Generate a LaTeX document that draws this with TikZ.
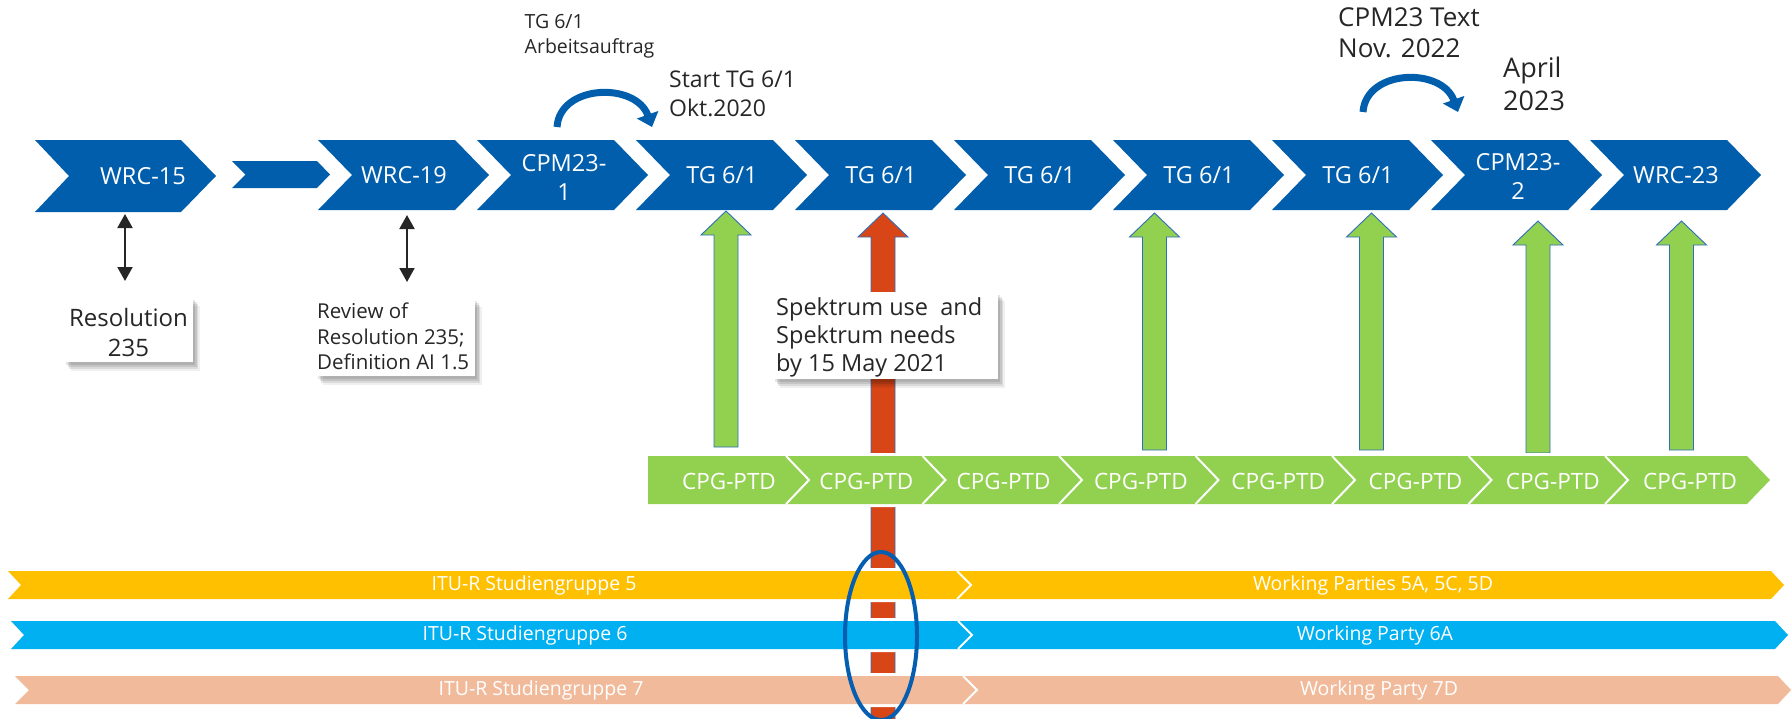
\documentclass[tikz,border=0pt]{standalone}
\usepackage{fontspec}
\setmainfont{Open Sans}
\usetikzlibrary{arrows.meta,shadows,shapes.geometric}
\definecolor{chevblue}{RGB}{0,94,172}
\definecolor{cgreen}{RGB}{146,208,80}
\definecolor{cred}{RGB}{216,70,24}
\definecolor{aline}{RGB}{46,110,186}
\definecolor{cyellow}{RGB}{255,192,0}
\definecolor{ccyan}{RGB}{0,176,240}
\definecolor{csalmon}{RGB}{241,187,155}
\definecolor{ellblue}{RGB}{5,94,176}
\definecolor{tgray}{RGB}{38,38,38}
\begin{document}
\begin{tikzpicture}[x=1pt,y=-1pt,
  chevtext/.style={text=white,font=\fontsize{23.5}{29}\selectfont,align=center,inner sep=0pt},
  lbl/.style={text=tgray,anchor=base west,inner sep=0pt},
  boxtext/.style={text=tgray,inner sep=0pt},
  whitebox/.style={fill=white,inner sep=0pt,
    drop shadow={shadow xshift=2pt,shadow yshift=-3pt,fill=black,opacity=0.10},
    drop shadow={shadow xshift=3.5pt,shadow yshift=-5pt,fill=black,opacity=0.10},
    drop shadow={shadow xshift=5pt,shadow yshift=-7pt,fill=black,opacity=0.09},
    drop shadow={shadow xshift=6.5pt,shadow yshift=-9pt,fill=black,opacity=0.06}},
  blockarrow/.style={draw=aline,line width=0.9pt},
  halo/.style={preaction={draw=white,line width=6pt}},
  cpgtext/.style={text=white,font=\fontsize{22.5}{27}\selectfont,inner sep=0pt},
  bandtext/.style={text=white,font=\fontsize{19.5}{24}\selectfont,inner sep=0pt},
  blackarrow/.style={draw=black!85,line width=2pt,{Triangle[length=14pt,width=15pt]}-{Triangle[length=14pt,width=15pt]}},
  curvearrow/.style={draw=chevblue,line width=7pt,-{Triangle[length=13pt,width=22pt]}}
]
\useasboundingbox (0,0) rectangle (1791,718);

% ---------- red block arrow (goes down through everything)
\filldraw[blockarrow,fill=cred] (871,724) -- (871,237) -- (858,237) -- (883,213) -- (908,237) -- (895,237) -- (895,724) -- cycle;

% ---------- green block arrows
\foreach \x/\t/\b in {726/211/447,1154.5/213/450,1371.5/213/450,1538/221/453,1681.5/221/450}{
  \filldraw[blockarrow,fill=cgreen] (\x-12,\b) -- (\x-12,\t+24) -- (\x-25,\t+24) -- (\x,\t) -- (\x+25,\t+24) -- (\x+12,\t+24) -- (\x+12,\b) -- cycle;
}

% ---------- blue chevrons
\fill[chevblue] (35,140) -- (181,140) -- (216,176) -- (181,212) -- (35,212) -- (69,176) -- cycle;
\fill[chevblue] (232,161) -- (317,161) -- (330,174.5) -- (317,188) -- (232,188) -- (245.5,174.5) -- cycle;
\foreach \x in {318,477,636,795,954,1113,1272,1431,1590}{
  \fill[chevblue] (\x,140) -- ++(137,0) -- ++(34,35) -- ++(-34,35) -- ++(-137,0) -- ++(34,-35) -- cycle;
}
\node[chevtext] (wrc15) at (143,176) {WRC-15};
\node[chevtext] (wrc19) at (404,175) {WRC-19};
\node[chevtext] (cpm1) at (564,177) {CPM23-\\1};
\node[chevtext] (tga) at (722,175) {TG 6/1};
\node[chevtext] (tgb) at (881,175) {TG 6/1};
\node[chevtext] (tgc) at (1040,175) {TG 6/1};
\node[chevtext] (tgd) at (1199,175) {TG 6/1};
\node[chevtext] (tge) at (1358,175) {TG 6/1};
\node[chevtext] (cpm2) at (1518,176) {CPM23-\\2};
\node[chevtext] (wrc23) at (1676,175) {WRC-23};

% ---------- top labels
\node[lbl,font=\fontsize{19.5}{24}\selectfont] (tgl1) at (524.5,28.3) {TG 6/1};
\node[lbl,font=\fontsize{19.5}{24}\selectfont] (tgl2) at (524.5,53.3) {Arbeitsauftrag};
\node[lbl,font=\fontsize{23}{28}\selectfont] (stl1) at (669,87.3) {Start TG 6/1};
\node[lbl,font=\fontsize{23}{28}\selectfont] (stl2) at (669,116) {Okt.2020};
\node[lbl,font=\fontsize{26}{31}\selectfont] (cpl1) at (1338,26) {CPM23 Text};
\node[lbl,font=\fontsize{26}{31}\selectfont] (cpl2) at (1338,57.3) {Nov. 2022};
\node[lbl,font=\fontsize{27}{33}\selectfont] (apl1) at (1503,77.3) {April};
\node[lbl,font=\fontsize{27}{33}\selectfont] (apl2) at (1503,110.7) {2023};

% ---------- curved arrows
\coordinate (ca1s) at (557,127);
\coordinate (ca1e) at (652,127);
\draw[curvearrow] (ca1s) .. controls (560,84) and (636,82) .. (ca1e);
\coordinate (ca2s) at (1363,112);
\coordinate (ca2e) at (1458,112);
\draw[curvearrow] (ca2s) .. controls (1366,69) and (1442,67) .. (ca2e);

% ---------- black double arrows
\coordinate (ba1t) at (125,214);
\coordinate (ba1b) at (125,281);
\draw[blackarrow] (ba1t) -- (ba1b);
\coordinate (ba2t) at (407,215);
\coordinate (ba2b) at (407,282);
\draw[blackarrow] (ba2t) -- (ba2b);

% ---------- boxes
\node[whitebox,minimum width=129pt,minimum height=65pt] (resbox) at (128.5,329.5) {};
\node[boxtext,anchor=base,font=\fontsize{24}{30}\selectfont] (res1) at (128.5,326) {Resolution};
\node[boxtext,anchor=base,font=\fontsize{24}{30}\selectfont] (res2) at (128.5,356) {235};

\node[whitebox,minimum width=159pt,minimum height=78pt] (revbox) at (395.5,337) {};
\node[lbl,font=\fontsize{20.5}{25}\selectfont] (rev1) at (317,318.3) {Review of};
\node[lbl,font=\fontsize{20.5}{25}\selectfont] (rev2) at (317,344.3) {Resolution 235;};
\node[lbl,font=\fontsize{20.5}{25}\selectfont] (rev3) at (317,369.5) {Definition AI 1.5};

\node[whitebox,minimum width=225pt,minimum height=87pt] (spbox) at (885.5,335.5) {};
\node[lbl,font=\fontsize{23.5}{28}\selectfont] (sp1) at (776,315) {Spektrum use\ \ and};
\node[lbl,font=\fontsize{23.5}{28}\selectfont] (sp2) at (776,343) {Spektrum needs};
\node[lbl,font=\fontsize{23.5}{28}\selectfont] (sp3) at (776,371) {by 15 May 2021};

% ---------- CPG-PTD strip
\path[halo,fill=cgreen] (648,456) -- (1747,456) -- (1770,480) -- (1747,504) -- (648,504) -- cycle;
\foreach \x in {786,922.5,1059,1195.5,1332,1468.5,1605}{
  \draw[white,line width=2pt] (\x,456) -- (\x+23,480) -- (\x,504);
}
\foreach \i [evaluate=\i as \cx using 729+137.3*\i] in {0,...,7}{
  \node[cpgtext] (cpg\i) at (\cx,481) {CPG-PTD};
}

% ---------- study group bands
\path[halo,fill=cyellow] (8,571) -- (1771,571) -- (1784,585) -- (1771,599) -- (8,599) -- (21,585) -- cycle;
\draw[white,line width=2pt] (957,571) -- (971,585) -- (957,599);
\path[halo,fill=ccyan] (11,621) -- (1775,621) -- (1788,635) -- (1775,649) -- (11,649) -- (24,635) -- cycle;
\draw[white,line width=2pt] (958,621) -- (972,635) -- (958,649);
\path[halo,fill=csalmon] (15,676) -- (1778,676) -- (1791,690) -- (1778,704) -- (15,704) -- (29,690) -- cycle;
\draw[white,line width=2pt] (963,676) -- (977,690) -- (963,704);

\node[bandtext] (sg5) at (534,585) {ITU-R Studiengruppe 5};
\node[bandtext] (wp5) at (1373,585) {Working Parties 5A, 5C, 5D};
\node[bandtext] (sg6) at (525,635.5) {ITU-R Studiengruppe 6};
\node[bandtext] (wp6) at (1375,635.5) {Working Party 6A};
\node[bandtext] (sg7) at (541,690) {ITU-R Studiengruppe 7};
\node[bandtext] (wp7) at (1379,690) {Working Party 7D};

% ---------- ellipse
\node[draw=ellblue,line width=4pt,ellipse,minimum width=72pt,minimum height=168pt,inner sep=0pt] (ring) at (881,636) {};
\end{tikzpicture}
\end{document}
